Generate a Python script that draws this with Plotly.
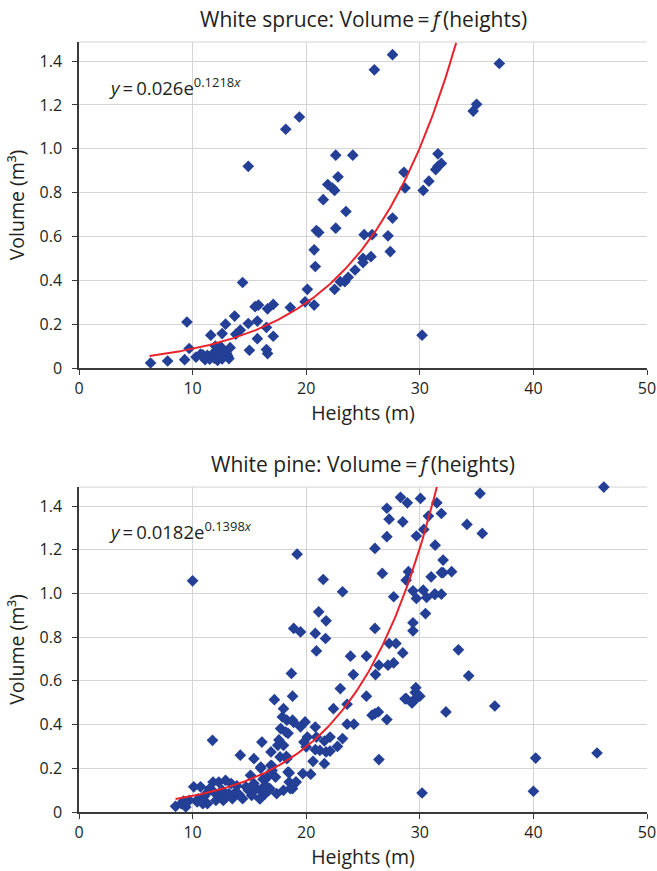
import numpy as np
import plotly.graph_objects as go

# ---------------- data ----------------
spruce_height = [6.3, 7.8, 9.3, 9.5, 9.7, 10.3, 10.7, 11.1, 11.3, 11.6, 11.8, 12.1, 12.2, 12.4,
                 12.5, 12.6, 12.7, 12.9, 13.0, 13.2, 13.3, 13.7, 13.8, 14.2, 14.4, 14.9, 14.9,
                 15.0, 15.5, 15.7, 15.7, 15.8, 16.5, 16.5, 16.6, 16.6, 17.1, 17.1, 18.2, 18.6,
                 19.4, 19.9, 20.1, 20.7, 20.7, 20.8, 20.9, 21.1, 21.5, 21.9, 22.3, 22.5, 22.5,
                 22.6, 22.6, 22.8, 23.0, 23.4, 23.5, 23.7, 24.1, 24.3, 25.0, 25.0, 25.1, 25.7,
                 25.8, 26.0, 27.2, 27.4, 27.6, 27.6, 28.6, 28.7, 30.2, 30.3, 30.8, 31.4, 31.6,
                 31.9, 31.6, 34.7, 35.0, 37.0, 11.9, 12.3, 12.0, 12.8, 11.5, 13.1, 10.9, 12.6]
spruce_volume = [0.023, 0.032, 0.038, 0.21, 0.089, 0.05, 0.063, 0.038, 0.058, 0.15, 0.066, 0.081,
                 0.035, 0.058, 0.096, 0.157, 0.05, 0.2, 0.066, 0.043, 0.093, 0.237, 0.154, 0.173,
                 0.39, 0.92, 0.203, 0.081, 0.28, 0.134, 0.214, 0.287, 0.185, 0.084, 0.066, 0.27,
                 0.145, 0.29, 1.089, 0.276, 1.145, 0.302, 0.359, 0.287, 0.539, 0.463, 0.627,
                 0.618, 0.768, 0.837, 0.821, 0.81, 0.359, 0.638, 0.971, 0.872, 0.394, 0.394,
                 0.714, 0.414, 0.971, 0.447, 0.5, 0.481, 0.608, 0.508, 0.608, 1.36, 0.603, 0.531,
                 0.684, 1.429, 0.893, 0.821, 0.15, 0.81, 0.852, 0.905, 0.92, 0.933, 0.977,
                 1.172, 1.203, 1.389, 0.045, 0.07, 0.1, 0.075, 0.04, 0.055, 0.06, 0.042]

pine_height = [10.0, 11.75, 8.5, 9.0, 9.4, 9.7, 10.1, 10.4, 10.7, 10.9, 11.2, 11.3, 11.5, 11.8,
               12.05, 12.3, 12.5, 12.7, 12.9, 13.2, 13.4, 13.5, 13.8, 14.2, 14.4, 14.7, 15.1,
               15.2, 15.4, 15.6, 15.9, 16.0, 16.1, 16.4, 16.6, 16.7, 16.9, 16.9, 17.2, 17.3,
               17.5, 17.7, 17.75, 17.9, 18.0, 18.0, 18.2, 18.3, 18.3, 18.4, 18.5, 18.6, 18.7,
               18.8, 18.8, 18.9, 19.1, 19.2, 19.5, 19.9, 20.8, 21.1, 21.5, 21.75, 20.8, 21.7,
               20.9, 23.2, 23.9, 24.15, 23.0, 22.4, 23.6, 23.6, 24.2, 25.3, 25.3, 26.05, 26.05,
               26.1, 26.4, 25.8, 26.05, 26.35, 27.1, 26.4, 26.7, 27.1, 27.1, 27.3, 27.3, 27.2,
               27.7, 27.7, 27.9, 28.5, 28.3, 28.5, 28.9, 28.8, 29.0, 29.4, 29.4, 29.6, 29.65,
               29.4, 28.8, 29.4, 29.7, 30.06, 30.0, 30.2, 29.7, 30.3, 30.35, 30.76, 30.6, 31.0,
               31.35, 31.5, 31.9, 32.05, 32.05, 31.3, 32.3, 46.2, 35.3, 34.15, 35.5, 32.8, 31.9,
               31.35, 31.9, 30.5, 33.4, 34.3, 29.6, 29.9, 28.7, 29.3, 36.6, 40.2, 45.6, 40.0,
               16.0, 17.0, 18.25, 19.8, 20.1, 20.0, 20.8, 20.9, 21.2, 21.6, 21.75, 22.1, 22.1,
               22.75, 23.2, 20.6, 21.6, 20.4, 19.7, 18.5, 19.1, 18.8, 18.0, 17.4, 16.8, 16.4,
               15.95, 15.2, 15.95, 19.5, 18.4, 17.6, 18.9, 9.2, 10.5, 11.0, 11.9, 12.6, 13.0,
               13.9, 14.1, 14.9, 15.4, 16.2, 17.0]
pine_volume = [1.058, 0.328, 0.026, 0.038, 0.023, 0.053, 0.115, 0.046, 0.115, 0.038, 0.084, 0.038,
               0.107, 0.137, 0.053, 0.137, 0.076, 0.053, 0.145, 0.084, 0.13, 0.061, 0.092, 0.26,
               0.061, 0.115, 0.168, 0.076, 0.244, 0.107, 0.061, 0.206, 0.32, 0.084, 0.16, 0.099,
               0.214, 0.275, 0.514, 0.16, 0.305, 0.252, 0.382, 0.435, 0.473, 0.305, 0.366, 0.244,
               0.42, 0.183, 0.137, 0.107, 0.634, 0.53, 0.42, 0.84, 0.137, 1.18, 0.824, 0.412,
               0.389, 0.916, 1.064, 0.875, 0.817, 0.794, 0.737, 1.008, 0.713, 0.629, 0.565,
               0.473, 0.493, 0.402, 0.402, 0.53, 0.713, 0.84, 1.206, 0.629, 0.672, 0.443, 0.45,
               0.458, 0.423, 0.24, 1.092, 1.26, 1.39, 1.34, 0.771, 0.672, 0.682, 0.985, 0.771,
               0.728, 1.44, 1.328, 1.415, 1.061, 1.1, 0.866, 0.829, 0.519, 0.569, 0.504, 0.519,
               1.012, 1.263, 1.435, 0.53, 0.087, 0.977, 1.015, 1.293, 1.354, 0.982, 1.076, 1.221,
               1.415, 1.366, 1.153, 1.095, 0.997, 0.458, 1.487, 1.458, 1.316, 1.275, 1.1, 1.095,
               0.997, 0.997, 0.908, 0.742, 0.623, 0.547, 0.53, 0.518, 0.499, 0.485, 0.247, 0.27,
               0.095, 0.2, 0.21, 0.255, 0.32, 0.343, 0.298, 0.285, 0.343, 0.282, 0.325, 0.275,
               0.279, 0.343, 0.3, 0.336, 0.232, 0.221, 0.173, 0.176, 0.179, 0.137, 0.107, 0.099,
               0.084, 0.107, 0.122, 0.061, 0.092, 0.099, 0.39, 0.36, 0.33, 0.41, 0.05, 0.06,
               0.07, 0.09, 0.1, 0.07, 0.12, 0.08, 0.1, 0.13, 0.15, 0.19]

spruce_fit = (0.026, 0.1218)
pine_fit = (0.0182, 0.1398)
spruce_fit_range = (6.2, 33.2)
pine_fit_range = (8.5, 31.5)

x_ticks = [0, 10, 20, 30, 40, 50]
y_tickvals = [0, 0.2, 0.4, 0.6, 0.8, 1.0, 1.2, 1.4]
y_ticktext = ["0", "0.2", "0.4", "0.6", "0.8", "1.0", "1.2", "1.4"]

titles = ["White spruce: Volume\u2009=\u2009<i>f</i>\u2009(heights)",
          "White pine: Volume\u2009=\u2009<i>f</i>\u2009(heights)"]
equations = ["<i>y</i>\u2009=\u20090.026e<sup>0.1218<i>x</i></sup>",
             "<i>y</i>\u2009=\u20090.0182e<sup>0.1398<i>x</i></sup>"]

# ---------------- figure ----------------
FONT = "Open Sans"
BLUE = "#233f96"
RED = "#e8232b"
TXT = "#231f20"
fig = go.Figure()

panels = [
    (spruce_height, spruce_volume, spruce_fit, spruce_fit_range, "x", "y"),
    (pine_height, pine_volume, pine_fit, pine_fit_range, "x2", "y2"),
]
for hx, vol, (a, b), (x0, x1), xa, ya in panels:
    fig.add_trace(go.Scatter(x=hx, y=vol, mode="markers", xaxis=xa, yaxis=ya,
                             marker=dict(symbol="diamond", size=9, color=BLUE),
                             showlegend=False, cliponaxis=False))
    xs = np.linspace(x0, x1, 200)
    fig.add_trace(go.Scatter(x=xs, y=a * np.exp(b * xs), mode="lines", xaxis=xa, yaxis=ya,
                             line=dict(color=RED, width=2), showlegend=False))

axis_common = dict(showgrid=True, gridcolor="#d4d4d4", gridwidth=1, zeroline=False,
                   showline=True, linecolor="#3a3a3a", linewidth=1.5, ticks="outside",
                   ticklen=5, tickcolor="#3a3a3a", automargin=False,
                   ticklabeloverflow="allow",
                   tickfont=dict(family=FONT, size=16, color=TXT))
xcommon = dict(axis_common, range=[0, 50], tickvals=x_ticks)
ycommon = dict(axis_common, range=[0, 1.487], tickvals=y_tickvals, ticktext=y_ticktext,
               ticklabelstandoff=7)
title_font = dict(family=FONT, size=19.5, color=TXT)

fig.update_layout(
    width=657, height=871,
    margin=dict(l=79, r=10, t=42, b=59),
    plot_bgcolor="white", paper_bgcolor="white",
    xaxis=dict(xcommon, domain=[0, 1], anchor="y",
               title=dict(text="Heights (m)", font=title_font, standoff=2)),
    yaxis=dict(ycommon, domain=[0.5766, 1], anchor="x",
               title=dict(text="Volume (m³)", font=title_font, standoff=10)),
    xaxis2=dict(xcommon, domain=[0, 1], anchor="y2",
                title=dict(text="Heights (m)", font=title_font, standoff=2)),
    yaxis2=dict(ycommon, domain=[0, 0.422], anchor="x2",
                title=dict(text="Volume (m³)", font=title_font, standoff=10)),
)

annotations = []
shapes = []
for i, (xr, yr) in enumerate([("x domain", "y domain"), ("x2 domain", "y2 domain")]):
    annotations.append(dict(text=titles[i], xref=xr, yref=yr, x=0.5, y=1.0, yshift=23,
                            yanchor="middle", showarrow=False,
                            font=dict(family=FONT, size=21, color=TXT)))
    annotations.append(dict(text=equations[i], xref=xr, yref=yr, x=0.049, y=0.865,
                            xanchor="left", yanchor="middle", showarrow=False,
                            font=dict(family=FONT, size=18.5, color=TXT)))
    shapes.append(dict(type="line", xref=xr, yref=yr, x0=0, x1=1, y0=1, y1=1,
                       layer="below", line=dict(color="#d4d4d4", width=1)))
fig.update_layout(annotations=annotations, shapes=shapes)

fig.write_html("out.html", config={"displayModeBar": False},
               post_script="document.body.style.margin='0';")
